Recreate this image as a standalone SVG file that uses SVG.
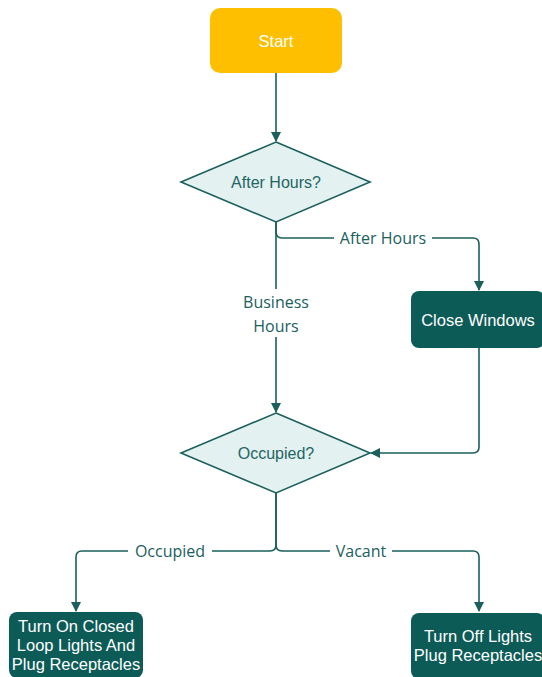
<svg xmlns="http://www.w3.org/2000/svg" width="542" height="677" viewBox="0 0 542 677">
  <defs>
    <marker id="arrow" viewBox="0 0 10 10" refX="9" refY="5" markerWidth="10" markerHeight="10" markerUnits="userSpaceOnUse" orient="auto">
      <path d="M0,0 L10,5 L0,10 z" fill="#1b605d"/>
    </marker>
    <style>
      .edge { fill: none; stroke: #1b605d; stroke-width: 1.6; }
      .elabel { font-family: "Open Sans", "Noto Sans", sans-serif; font-size: 16px; fill: #1b605d; text-anchor: middle; }
      .decision { fill: #e3f1f1; stroke: #1b605d; stroke-width: 1.6; }
      .dtext { font-family: "Liberation Sans", Arial, sans-serif; font-size: 16px; fill: #1f6562; text-anchor: middle; }
      .process { fill: #0d5b57; }
      .ptext { font-family: "Liberation Sans", Arial, sans-serif; font-size: 16.5px; fill: #ffffff; text-anchor: middle; }
      .lblbg { fill: #ffffff; }
    </style>
  </defs>

  <rect width="542" height="677" fill="#ffffff"/>

  <g id="connectors">
    <path class="edge" d="M276,73 V141" marker-end="url(#arrow)"/>
    <path class="edge" d="M276,222 V412" marker-end="url(#arrow)"/>
    <path class="edge" d="M276,222 V232 Q276,238 282,238 H473 Q479,238 479,244 V290" marker-end="url(#arrow)"/>
    <path class="edge" d="M479,348 V447 Q479,453 473,453 H371" marker-end="url(#arrow)"/>
    <path class="edge" d="M276,493 V545 Q276,551 270,551 H82 Q76,551 76,557 V611" marker-end="url(#arrow)"/>
    <path class="edge" d="M276,493 V545 Q276,551 282,551 H473 Q479,551 479,557 V611" marker-end="url(#arrow)"/>

    <rect class="lblbg" x="334" y="227" width="98" height="22"/>
    <text class="elabel" x="383" y="244">After Hours</text>
    <rect class="lblbg" x="236" y="289" width="80" height="48"/>
    <text class="elabel" x="276" y="308">Business</text>
    <text class="elabel" x="276" y="332">Hours</text>
    <rect class="lblbg" x="128" y="540" width="84" height="22"/>
    <text class="elabel" x="170" y="557">Occupied</text>
    <rect class="lblbg" x="330" y="540" width="62" height="22"/>
    <text class="elabel" x="361" y="557">Vacant</text>
  </g>

  <g id="start">
    <rect x="210" y="8" width="132" height="65" rx="10" fill="#fdbf00"/>
    <text class="ptext" x="276" y="47">Start</text>
  </g>

  <g id="after-hours">
    <polygon class="decision" points="276,142 370,182 276,222 181,182"/>
    <text class="dtext" x="276" y="188">After Hours?</text>
  </g>

  <g id="close-windows">
    <rect class="process" x="411" y="291" width="134" height="57" rx="8"/>
    <text class="ptext" x="478" y="326">Close Windows</text>
  </g>

  <g id="occupied">
    <polygon class="decision" points="276,413 370,453 276,493 181,453"/>
    <text class="dtext" x="276" y="459">Occupied?</text>
  </g>

  <g id="turn-on">
    <rect class="process" x="9" y="612" width="134" height="66" rx="8"/>
    <text class="ptext" x="76" y="632">Turn On Closed</text>
    <text class="ptext" x="76" y="651">Loop Lights And</text>
    <text class="ptext" x="76" y="670">Plug Receptacles</text>
  </g>

  <g id="turn-off">
    <rect class="process" x="411" y="613" width="134" height="66" rx="8"/>
    <text class="ptext" x="478" y="642">Turn Off Lights</text>
    <text class="ptext" x="478" y="661">Plug Receptacles</text>
  </g>
</svg>
